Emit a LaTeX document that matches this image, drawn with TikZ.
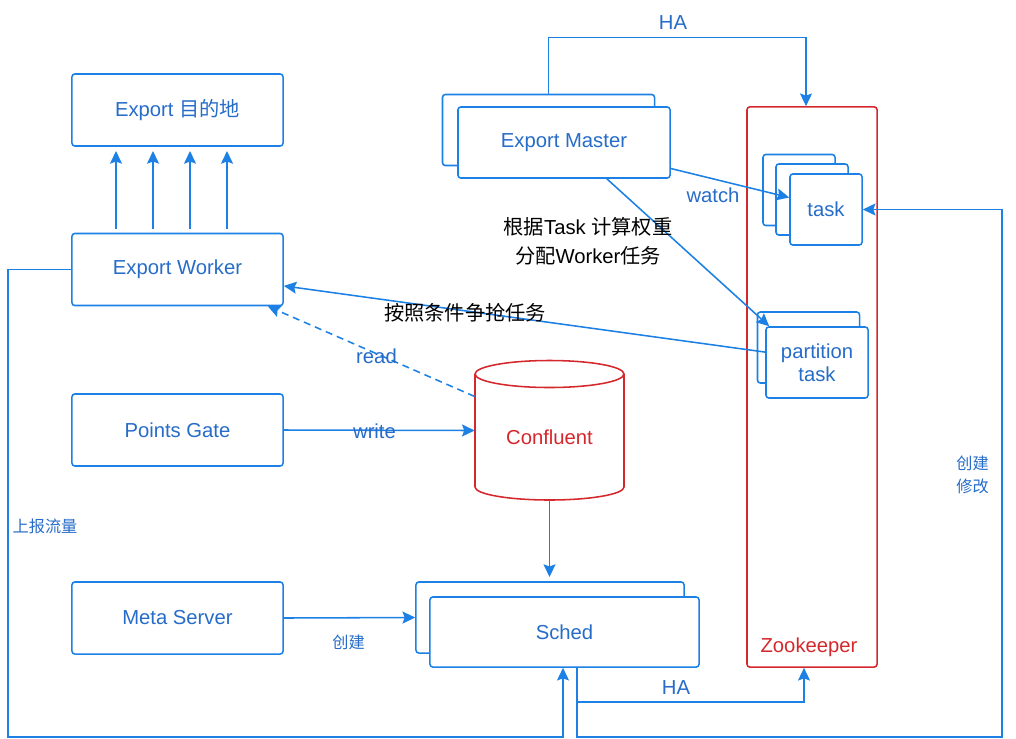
\documentclass[tikz,border=0pt]{standalone}
\usepackage{fontspec}
\setmainfont{Liberation Sans}
\newfontfamily\cjk{Noto Sans CJK SC}
\usetikzlibrary{arrows.meta}

\definecolor{lineblue}{RGB}{28,128,228}
\definecolor{textblue}{RGB}{38,108,200}
\definecolor{zkred}{RGB}{212,40,44}

\tikzset{
  box/.style={draw=lineblue, line width=1.1pt, rounded corners=2pt, fill=white,
    text=textblue, inner sep=0pt, align=center, font=\fontsize{14.4}{16.3}\selectfont},
  wire/.style={lineblue, line width=1.1pt},
  arr/.style={wire, -{Stealth[length=9pt,width=8.5pt,inset=1.5pt]}},
  tag/.style={text=textblue, inner sep=1pt, font=\fontsize{14.4}{17}\selectfont},
  small/.style={text=textblue, inner sep=1pt, align=center, font=\cjk\fontsize{11.5}{16.3}\selectfont},
  note/.style={text=black, inner sep=1pt, align=center, font=\fontsize{14.4}{20.5}\selectfont}
}

\begin{document}
\begin{tikzpicture}[x=0.025cm, y=0.025cm]

\useasboundingbox (0,0) rectangle (1016,-738);

\node[box, minimum width=5.275cm, minimum height=1.8cm] (dest) at (177.5,-110) {Export {\cjk 目的地}};
\node[box, minimum width=5.275cm, minimum height=1.8cm] (worker) at (177.5,-269.5) {Export Worker};
\node[box, minimum width=5.275cm, minimum height=1.8cm] (gate) at (177.5,-430) {Points Gate};
\node[box, minimum width=5.275cm, minimum height=1.8cm] (meta) at (177.5,-618) {Meta Server};

\node[box, minimum width=5.3cm, minimum height=1.775cm] (mback) at (548.5,-130) {};
\node[box, minimum width=5.3cm, minimum height=1.775cm] (mfront) at (564,-142.5) {Export Master};

\node[draw=zkred, line width=1.1pt, rounded corners=2pt, minimum width=3.25cm, minimum height=14cm] (zk) at (812,-387) {};
\node[text=zkred, font=\fontsize{14.4}{17}\selectfont] (zklabel) at (809,-647) {Zookeeper};

\foreach \i/\x/\y in {1/799/-190, 2/812/-199.5}
    \node[box, minimum width=1.8cm, minimum height=1.775cm] (task\i) at (\x,\y) {};
\node[box, minimum width=1.8cm, minimum height=1.775cm] (task3) at (826,-209.5) {task};

\node[box, minimum width=2.55cm, minimum height=1.775cm] (pback) at (808.5,-347.5) {};
\node[box, minimum width=2.55cm, minimum height=1.775cm] (pfront) at (817,-362.5) {partition\\task};

\draw[zkred, line width=1.1pt, fill=white] (475,-374) -- (475,-487)
    arc[start angle=180, end angle=360, x radius=74.5, y radius=13] -- (624,-374);
\draw[zkred, line width=1.1pt] (549.5,-374) ellipse [x radius=74.5, y radius=13.5];
\node[minimum width=3.725cm, minimum height=3.475cm, inner sep=0pt] (conf) at (549.5,-430.5) {};
\node[text=zkred, font=\fontsize{14.4}{17}\selectfont] (conflabel) at (549.5,-437) {Confluent};

\node[box, minimum width=6.7cm, minimum height=1.775cm] (sback) at (550,-617.5) {};
\node[box, minimum width=6.725cm, minimum height=1.75cm] (sfront) at (564.5,-632) {Sched};

\foreach \dx in {-61.5,-24.5,12.5,49.5}
    \draw[arr, shorten <=3pt, shorten >=3pt] ([xshift=\dx*0.025cm]worker.north) -- ([xshift=\dx*0.025cm]dest.south);

\draw[arr] (mback.north) -- ++(0,56) -| ([xshift=-0.15cm]zk.north);
\node[tag] (ha1) at (673,-23) {HA};

\draw[arr] ([yshift=-0.65cm]mfront.east) -- ([yshift=0.3cm]task3.west);
\node[tag] (watch) at (713,-195) {watch};

\draw[arr] ([xshift=1.07cm]mfront.south) -- ([xshift=0.1cm]pfront.north west);
\node[note] (weight) at (588,-241.5) {{\cjk 根据}Task {\cjk 计算权重}\\{\cjk 分配}Worker{\cjk 任务}};

\draw[arr] ([yshift=0.26cm]pfront.west) -- ([yshift=-0.41cm]worker.east);
\node[note, font=\cjk\fontsize{14.4}{17}\selectfont] (grab) at (465,-313) {按照条件争抢任务};

\draw[arr, dash pattern=on 5pt off 3.5pt] ([yshift=0.85cm]conf.west) -- ([xshift=-0.4cm]worker.south east);
\node[tag] (read) at (376.5,-356) {read};

\draw[arr] (gate.east) -- (conf.west);
\node[tag] (write) at (374.5,-431) {write};

\draw[arr, shorten >=3pt] (conf.south) -- (conf.south |- sback.north);

\draw[arr] (meta.east) -- (sback.west);
\node[small] (create1) at (348.5,-642) {创建};

\draw[arr] ([xshift=0.3125cm]sfront.south) -- ++(0,-34) -| ([xshift=-0.2cm]zk.south);
\node[tag] (ha2) at (676,-688) {HA};

\coordinate (rb) at (1002,-737);
\coordinate (lb) at (8,-737);
\draw[arr] ([xshift=0.3125cm]sfront.south) |- (rb) |- (task3.east);
\node[small] (modify) at (972.5,-475) {创建\\修改};

\draw[arr] (worker.west) -| (lb) -| ([xshift=-0.0375cm]sfront.south);
\node[small] (report) at (45,-526) {上报流量};

\end{tikzpicture}
\end{document}
